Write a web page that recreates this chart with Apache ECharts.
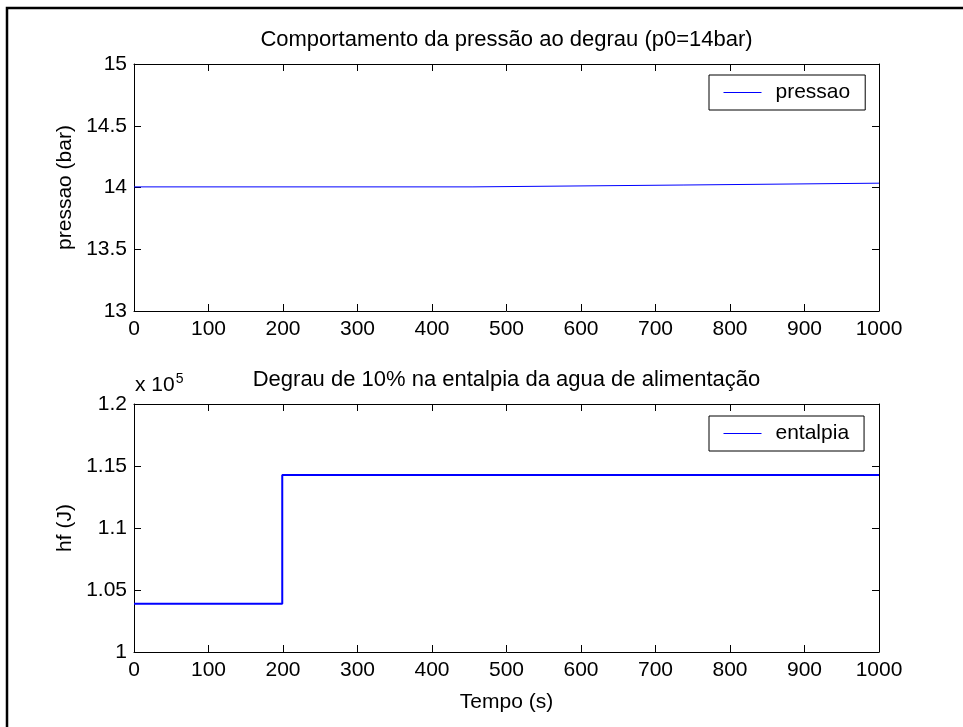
<!DOCTYPE html>
<html>
<head>
<meta charset="utf-8">
<script src="https://cdn.jsdelivr.net/npm/echarts@6/dist/echarts.min.js"></script>
<style>
  html, body { margin: 0; padding: 0; background: #fff; }
  #chart { width: 963px; height: 727px; }
</style>
</head>
<body>
<div id="chart"></div>
<script>
// dados
const tempoPressao = [0, 455, 737, 1000]
const pressao = [14.005, 14.02, 14.035, 14.035]
const tempoEntalpia = [0, 199, 1000]
const entalpia = [103900, 114270, 114270]

// eixos
const tempoRange = [0, 1000, 100]
const pressaoRange = [13, 15, 0.5]
const entalpiaRange = [100000, 120000, 5000]

const FONT = '"Liberation Sans", Arial, Helvetica, sans-serif'
const FS = 21
const AZUL = '#0000ff'

const chart = echarts.init(document.getElementById('chart'))

const grids = [
  { left: 134, top: 64, width: 745, height: 247 },
  { left: 134, top: 404, width: 745, height: 248 }
]

const tick = { show: true, inside: true, length: 7, lineStyle: { color: '#000', width: 1 } }
const line = { show: true, onZero: false, lineStyle: { color: '#000', width: 1 } }
const label = { color: '#000', fontFamily: FONT, fontSize: FS }

// eixo x principal + eixo x espelhado no topo
const makeX = (gridIndex, position, showLabel, name) => ({
  type: 'value',
  gridIndex,
  position,
  min: tempoRange[0],
  max: tempoRange[1],
  interval: tempoRange[2],
  axisLine: line,
  axisTick: tick,
  splitLine: { show: false },
  axisLabel: { show: showLabel, margin: 8, ...label, formatter: v => String(v) },
  name: name || '',
  nameLocation: 'middle',
  nameGap: 40,
  nameTextStyle: label
})

const makeY = (gridIndex, position, range, showLabel, name, fmt) => ({
  type: 'value',
  gridIndex,
  position,
  min: range[0],
  max: range[1],
  interval: range[2],
  axisLine: line,
  axisTick: tick,
  splitLine: { show: false },
  axisLabel: { show: showLabel, margin: 7, ...label, formatter: fmt || (v => String(v)) },
  name: name || '',
  nameLocation: 'middle',
  nameGap: 58,
  nameTextStyle: label
})

// legenda com linha fina azul, sem simbolo
const legendBase = {
  orient: 'vertical',
  selectedMode: false,
  backgroundColor: '#fff',
  borderColor: '#000',
  borderWidth: 1,
  padding: [7, 15, 7, 14],
  itemWidth: 38,
  itemHeight: 14,
  itemStyle: { opacity: 0 },
  lineStyle: { color: AZUL, width: 1, opacity: 1 },
  textStyle: { ...label, padding: [0, 0, 0, 9] }
}

chart.setOption({
  animation: false,
  backgroundColor: '#fff',
  title: [
    {
      text: 'Comportamento da pressão ao degrau (p0=14bar)',
      left: 506.5, top: 29, textAlign: 'center', padding: 0,
      textStyle: { ...label, fontSize: 22, fontWeight: 'normal' }
    },
    {
      text: 'Degrau de 10% na entalpia da agua de alimentação',
      left: 506.5, top: 369, textAlign: 'center', padding: 0,
      textStyle: { ...label, fontSize: 22, fontWeight: 'normal' }
    }
  ],
  legend: [
    { ...legendBase, left: 709, top: 75, data: ['pressao'] },
    { ...legendBase, left: 709, top: 416, data: ['entalpia'] }
  ],
  grid: grids,
  xAxis: [
    makeX(0, 'bottom', true),
    makeX(0, 'top', false),
    makeX(1, 'bottom', true, 'Tempo (s)'),
    makeX(1, 'top', false)
  ],
  yAxis: [
    makeY(0, 'left', pressaoRange, true, 'pressao (bar)'),
    makeY(0, 'right', pressaoRange, false),
    makeY(1, 'left', entalpiaRange, true, 'hf (J)', v => String(parseFloat((v / 1e5).toFixed(2)))),
    makeY(1, 'right', entalpiaRange, false)
  ],
  graphic: [
    {
      type: 'rect',
      shape: { x: 7, y: 8, width: 1100, height: 1100 },
      style: { fill: 'none', stroke: '#000', lineWidth: 2.5 },
      silent: true
    },
    {
      type: 'text',
      left: 135, top: 372,
      style: {
        text: 'x 10{sup|5}',
        fill: '#000',
        font: FS + 'px ' + FONT,
        rich: { sup: { fontSize: 14, fontFamily: FONT, verticalAlign: 'top', padding: [0, 0, 12, 1] } }
      }
    }
  ],
  series: [
    {
      name: 'pressao',
      type: 'line',
      xAxisIndex: 0,
      yAxisIndex: 0,
      step: 'end',
      symbol: 'none',
      lineStyle: { color: AZUL, width: 1 },
      itemStyle: { color: AZUL },
      data: tempoPressao.map((t, i) => [t, pressao[i]])
    },
    {
      name: 'entalpia',
      type: 'line',
      xAxisIndex: 2,
      yAxisIndex: 2,
      step: 'end',
      symbol: 'none',
      lineStyle: { color: AZUL, width: 2 },
      itemStyle: { color: AZUL },
      data: tempoEntalpia.map((t, i) => [t, entalpia[i]])
    }
  ]
})
</script>
</body>
</html>
